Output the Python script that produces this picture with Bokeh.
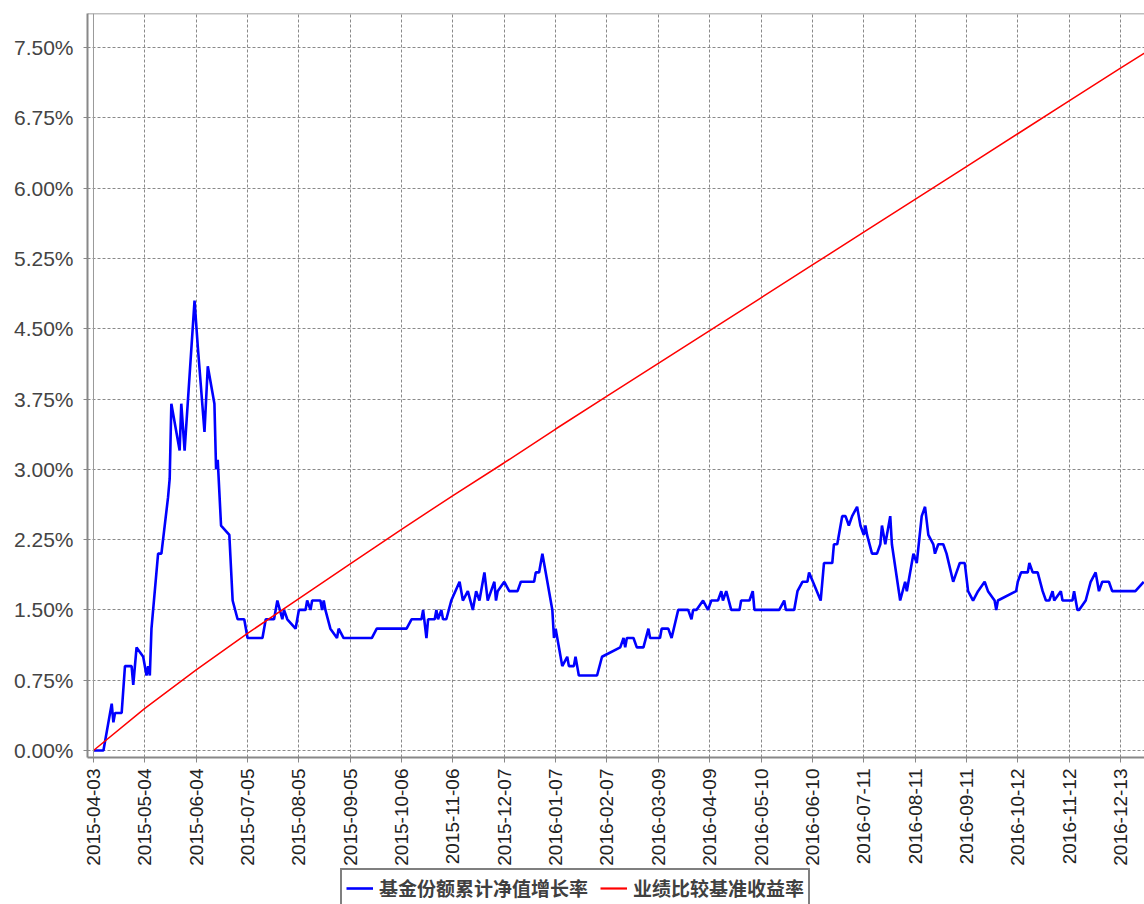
import pandas as pd
from math import pi
from bokeh.plotting import figure
from bokeh.layouts import column
from bokeh.models import (ColumnDataSource, FixedTicker, DatetimeTickFormatter,
                          PrintfTickFormatter, Range1d, Span, Legend, LegendItem)
from bokeh.embed import file_html
from bokeh.resources import INLINE

series_names = ["基金份额累计净值增长率", "业绩比较基准收益率"]
series_colors = ["#0000FF", "#FF0000"]

fund_dates = [
    "2015-04-03", "2015-04-09", "2015-04-14", "2015-04-15", "2015-04-16", "2015-04-20",
    "2015-04-22", "2015-04-26", "2015-04-27", "2015-04-29", "2015-05-03", "2015-05-05",
    "2015-05-06", "2015-05-07", "2015-05-08", "2015-05-12", "2015-05-14", "2015-05-18",
    "2015-05-19", "2015-05-20", "2015-05-25", "2015-05-26", "2015-05-28", "2015-06-03",
    "2015-06-05", "2015-06-09", "2015-06-11", "2015-06-15", "2015-06-16", "2015-06-17",
    "2015-06-19", "2015-06-24", "2015-06-26", "2015-06-29", "2015-07-03", "2015-07-05",
    "2015-07-14", "2015-07-16", "2015-07-21", "2015-07-23", "2015-07-26", "2015-07-27",
    "2015-07-29", "2015-08-03", "2015-08-05", "2015-08-09", "2015-08-10", "2015-08-12",
    "2015-08-13", "2015-08-18", "2015-08-19", "2015-08-20", "2015-08-21", "2015-08-24",
    "2015-08-28", "2015-08-29", "2015-09-01", "2015-09-18", "2015-09-21", "2015-10-09",
    "2015-10-12", "2015-10-18", "2015-10-19", "2015-10-21", "2015-10-22", "2015-10-26",
    "2015-10-27", "2015-10-28", "2015-10-30", "2015-10-31", "2015-11-02", "2015-11-05",
    "2015-11-10", "2015-11-12", "2015-11-15", "2015-11-18", "2015-11-20", "2015-11-22",
    "2015-11-25", "2015-11-27", "2015-11-29", "2015-12-01", "2015-12-02", "2015-12-03",
    "2015-12-07", "2015-12-10", "2015-12-15", "2015-12-17", "2015-12-25", "2015-12-26",
    "2015-12-28", "2015-12-30", "2016-01-02", "2016-01-05", "2016-01-06", "2016-01-07",
    "2016-01-11", "2016-01-14", "2016-01-15", "2016-01-18", "2016-01-19", "2016-01-20",
    "2016-01-21", "2016-02-01", "2016-02-04", "2016-02-15", "2016-02-17", "2016-02-18",
    "2016-02-19", "2016-02-23", "2016-02-25", "2016-02-29", "2016-03-03", "2016-03-04",
    "2016-03-10", "2016-03-11", "2016-03-15", "2016-03-17", "2016-03-21", "2016-03-27",
    "2016-03-29", "2016-03-30", "2016-04-01", "2016-04-05", "2016-04-08", "2016-04-10",
    "2016-04-14", "2016-04-16", "2016-04-17", "2016-04-19", "2016-04-22", "2016-04-27",
    "2016-04-28", "2016-05-03", "2016-05-05", "2016-05-06", "2016-05-21", "2016-05-24",
    "2016-05-25", "2016-05-30", "2016-06-01", "2016-06-04", "2016-06-07", "2016-06-08",
    "2016-06-15", "2016-06-17", "2016-06-20", "2016-06-22", "2016-06-23", "2016-06-25",
    "2016-06-28", "2016-06-30", "2016-07-02", "2016-07-04", "2016-07-07", "2016-07-09",
    "2016-07-11", "2016-07-12", "2016-07-13", "2016-07-16", "2016-07-19", "2016-07-21",
    "2016-07-22", "2016-07-24", "2016-07-27", "2016-07-28", "2016-08-02", "2016-08-05",
    "2016-08-06", "2016-08-10", "2016-08-12", "2016-08-15", "2016-08-17", "2016-08-19",
    "2016-08-22", "2016-08-23", "2016-08-25", "2016-08-28", "2016-08-30", "2016-09-03",
    "2016-09-05", "2016-09-07", "2016-09-10", "2016-09-12", "2016-09-15", "2016-09-18",
    "2016-09-22", "2016-09-24", "2016-09-28", "2016-09-29", "2016-09-30", "2016-10-11",
    "2016-10-12", "2016-10-14", "2016-10-18", "2016-10-19", "2016-10-21", "2016-10-24",
    "2016-10-27", "2016-10-29", "2016-10-31", "2016-11-02", "2016-11-03", "2016-11-07",
    "2016-11-08", "2016-11-14", "2016-11-15", "2016-11-17", "2016-11-18", "2016-11-22",
    "2016-11-25", "2016-11-28", "2016-11-30", "2016-12-02", "2016-12-06", "2016-12-08",
    "2016-12-22", "2016-12-27",
]
fund_values = [
    0.0, 0.0, 0.5, 0.3, 0.4, 0.4,
    0.9, 0.9, 0.7, 1.1, 1.0, 0.8,
    0.9, 0.8, 1.3, 2.1, 2.1, 2.7,
    2.9, 3.7, 3.2, 3.7, 3.2, 4.8,
    4.3, 3.4, 4.1, 3.7, 3.0, 3.1,
    2.4, 2.3, 1.6, 1.4, 1.4, 1.2,
    1.2, 1.4, 1.4, 1.6, 1.4, 1.5,
    1.4, 1.3, 1.5, 1.5, 1.6, 1.5,
    1.6, 1.6, 1.5, 1.6, 1.5, 1.3,
    1.2, 1.3, 1.2, 1.2, 1.3, 1.3,
    1.4, 1.4, 1.5, 1.2, 1.4, 1.4,
    1.5, 1.4, 1.5, 1.4, 1.4, 1.6,
    1.8, 1.6, 1.7, 1.5, 1.7, 1.6,
    1.9, 1.6, 1.7, 1.8, 1.6, 1.7,
    1.8, 1.7, 1.7, 1.8, 1.8, 1.9,
    1.9, 2.1, 1.8, 1.5, 1.2, 1.3,
    0.9, 1.0, 0.9, 0.9, 1.0, 0.9,
    0.8, 0.8, 1.0, 1.1, 1.2, 1.1,
    1.2, 1.2, 1.1, 1.1, 1.3, 1.2,
    1.2, 1.3, 1.3, 1.2, 1.5, 1.5,
    1.4, 1.5, 1.5, 1.6, 1.5, 1.6,
    1.6, 1.7, 1.6, 1.7, 1.5, 1.5,
    1.6, 1.6, 1.7, 1.5, 1.5, 1.6,
    1.5, 1.5, 1.7, 1.8, 1.8, 1.9,
    1.6, 2.0, 2.0, 2.0, 2.2, 2.2,
    2.5, 2.5, 2.4, 2.5, 2.6, 2.4,
    2.3, 2.4, 2.3, 2.1, 2.1, 2.2,
    2.4, 2.2, 2.5, 2.2, 1.6, 1.8,
    1.7, 2.1, 2.0, 2.5, 2.6, 2.3,
    2.2, 2.1, 2.2, 2.2, 2.1, 1.8,
    1.9, 2.0, 2.0, 1.7, 1.6, 1.7,
    1.8, 1.7, 1.6, 1.5, 1.6, 1.7,
    1.8, 1.9, 1.9, 2.0, 1.9, 1.9,
    1.7, 1.6, 1.6, 1.7, 1.6, 1.7,
    1.6, 1.6, 1.7, 1.5, 1.5, 1.6,
    1.8, 1.9, 1.7, 1.8, 1.8, 1.7,
    1.7, 1.8,
]

bench_dates = [
    "2015-04-03", "2015-05-04", "2015-06-04", "2015-07-05", "2015-08-05", "2015-09-05",
    "2015-10-06", "2015-11-06", "2015-12-07", "2016-01-07", "2016-02-07", "2016-03-09",
    "2016-04-09", "2016-05-10", "2016-06-10", "2016-07-11", "2016-08-11", "2016-09-11",
    "2016-10-12", "2016-11-12", "2016-12-13", "2016-12-31",
]
bench_values = [
    0.00, 0.45, 0.86, 1.25, 1.62, 1.99,
    2.36, 2.72, 3.07, 3.43, 3.78, 4.13,
    4.48, 4.83, 5.18, 5.53, 5.88, 6.23,
    6.58, 6.93, 7.28, 7.48,
]

x_tick_labels = [
    "2015-04-03", "2015-05-04", "2015-06-04", "2015-07-05", "2015-08-05", "2015-09-05",
    "2015-10-06", "2015-11-06", "2015-12-07", "2016-01-07", "2016-02-07", "2016-03-09",
    "2016-04-09", "2016-05-10", "2016-06-10", "2016-07-11", "2016-08-11", "2016-09-11",
    "2016-10-12", "2016-11-12", "2016-12-13",
]
y_tick_values = [0.0, 0.75, 1.5, 2.25, 3.0, 3.75, 4.5, 5.25, 6.0, 6.75, 7.5]


def ms(ts):
    return pd.Timestamp(ts).timestamp() * 1000.0


fund_src = ColumnDataSource(dict(x=pd.to_datetime(fund_dates), y=fund_values))
bench_src = ColumnDataSource(dict(x=pd.to_datetime(bench_dates), y=bench_values))

origin = pd.Timestamp(x_tick_labels[0])
x_start = origin - pd.Timedelta(days=3.62)
x_end = origin + pd.Timedelta(days=634.5)

W = 1144
p = figure(width=W, height=868, x_axis_type="datetime",
           output_backend="svg", toolbar_location=None,
           x_range=Range1d(ms(x_start), ms(x_end)),
           y_range=Range1d(-0.0747, 7.863),
           min_border_left=87, min_border_right=0,
           min_border_top=13, min_border_bottom=111)
p.background_fill_color = "white"
p.border_fill_color = "white"
p.outline_line_color = None

# grid
for g in (p.xgrid, p.ygrid):
    g.grid_line_color = "#8a8a8a"
    g.grid_line_dash = "3 2"
    g.grid_line_width = 1
p.xgrid.ticker = FixedTicker(ticks=[ms(t) for t in x_tick_labels])
p.ygrid.ticker = FixedTicker(ticks=y_tick_values)

# axes
xa = p.xaxis[0]
xa.ticker = FixedTicker(ticks=[ms(t) for t in x_tick_labels])
fmt = "%Y-%m-%d"
xa.formatter = DatetimeTickFormatter(milliseconds=fmt, seconds=fmt, minsec=fmt,
                                     minutes=fmt, hourmin=fmt, hours=fmt,
                                     days=fmt, months=fmt, years=fmt)
xa.major_label_orientation = pi / 2
xa.major_label_text_font = "Liberation Sans"
xa.major_label_text_font_size = "19px"
xa.major_label_text_color = "#222222"
xa.major_label_standoff = 6
xa.major_tick_out = 5
xa.major_tick_in = 0
xa.minor_tick_out = 0
xa.minor_tick_in = 0
xa.axis_line_color = "#888888"
xa.axis_line_width = 2
xa.major_tick_line_color = "#888888"

ya = p.yaxis[0]
ya.ticker = FixedTicker(ticks=y_tick_values)
ya.formatter = PrintfTickFormatter(format="%.2f%%")
ya.major_label_text_font = "Liberation Sans"
ya.major_label_text_font_size = "21px"
ya.major_label_text_color = "#444444"
ya.major_label_standoff = 10
ya.major_tick_out = 4
ya.major_tick_in = 0
ya.minor_tick_out = 0
ya.minor_tick_in = 0
ya.axis_line_color = "#888888"
ya.axis_line_width = 2
ya.major_tick_line_color = "#888888"

# plot outline (top edge and left data boundary)
p.add_layout(Span(location=7.863, dimension="width", line_color="#808080", line_width=1.5))
p.add_layout(Span(location=ms(origin), dimension="height", line_color="#9a9a9a", line_width=1))

p.line("x", "y", source=fund_src, line_color=series_colors[0], line_width=2.6)
p.line("x", "y", source=bench_src, line_color=series_colors[1], line_width=1.5)

# legend strip below the chart (its frame is aligned with the chart frame)
lg = figure(width=W, height=36, output_backend="svg", toolbar_location=None,
            x_range=Range1d(0, 1), y_range=Range1d(0, 1),
            x_axis_location=None, y_axis_location=None,
            min_border_left=87, min_border_right=0, min_border_top=0, min_border_bottom=0)
lg.outline_line_color = None
lg.xgrid.visible = False
lg.ygrid.visible = False
# legend-key renderers (kept outside the visible range; only their styles are used)
k0 = lg.line(x=[-2, -1], y=[-2, -2], line_color=series_colors[0], line_width=2.6)
k1 = lg.line(x=[-2, -1], y=[-2, -2], line_color=series_colors[1], line_width=2.2)

legend = Legend(items=[LegendItem(label=series_names[0], renderers=[k0]),
                       LegendItem(label=series_names[1], renderers=[k1])],
                orientation="horizontal", location=(253, -3))
legend.label_text_font = "Noto Sans CJK SC"
legend.label_text_font_size = "19px"
legend.label_text_font_style = "bold"
legend.label_text_color = "#404040"
legend.glyph_width = 27
legend.glyph_height = 20
legend.label_height = 20
legend.label_standoff = 6
legend.spacing = 12
legend.padding = 4
legend.margin = 0
legend.border_line_color = "black"
legend.border_line_width = 2
legend.background_fill_color = "white"
legend.background_fill_alpha = 1.0
lg.add_layout(legend, "center")

layout = column(p, lg, spacing=0)
open("out.html", "w").write(file_html(layout, INLINE))
